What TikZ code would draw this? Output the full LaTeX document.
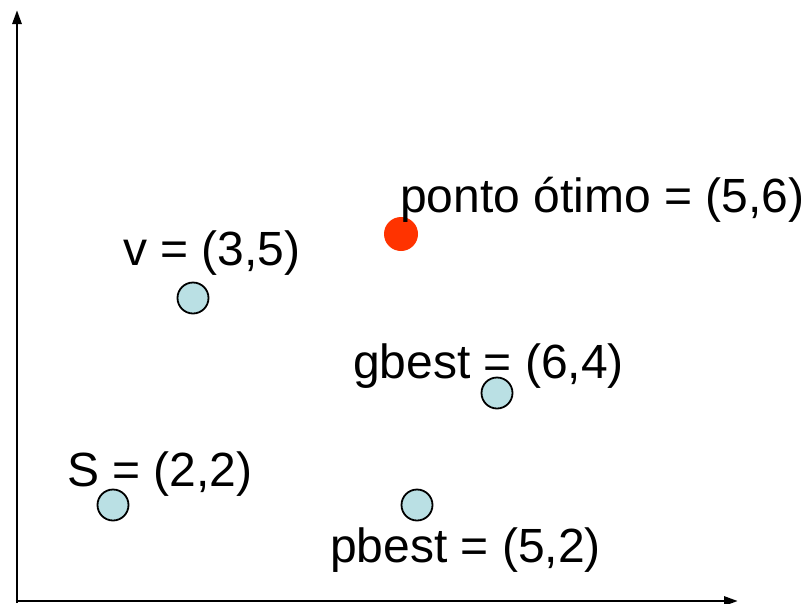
\documentclass[tikz,border=0pt]{standalone}
\usepackage{fontspec}
\setmainfont{Liberation Sans}
\usetikzlibrary{arrows.meta}
\definecolor{ptblue}{RGB}{186,224,228}
\definecolor{ptred}{RGB}{255,51,0}
\begin{document}
\begin{tikzpicture}[x=1pt,y=-1pt,
  axis/.style={line width=2.8pt,-{Triangle[length=14pt,width=9pt]}},
  particle/.style={circle,draw=black,line width=1.8pt,fill=ptblue,minimum size=31pt,inner sep=0pt},
  optimum/.style={circle,fill=ptred,minimum size=34pt,inner sep=0pt},
  lbl/.style={anchor=base west,inner sep=0pt,font=\fontsize{48}{52}\selectfont}]
\useasboundingbox (0,0) rectangle (808,603);
\coordinate (o) at (17,601);
\coordinate (ytop) at (17,10);
\coordinate (xend) at (738,601);
\draw[axis] (17,603) -- (ytop);
\draw[axis] (15.6,601) -- (xend);
\node[optimum] (opt) at (401,234) {};
\node[particle] (v) at (193,298) {};
\node[particle] (g) at (497,393) {};
\node[particle] (s) at (113,505) {};
\node[particle] (p) at (417,505) {};
\node[lbl] (lopt) at (400,212) {ponto ótimo = (5,6)};
\node[lbl] (lv) at (123,265) {v = (3,5)};
\node[lbl] (lg) at (353,378) {gbest = (6,4)};
\node[lbl] (ls) at (67,486) {S = (2,2)};
\node[lbl] (lp) at (330,562) {pbest = (5,2)};
\end{tikzpicture}
\end{document}
